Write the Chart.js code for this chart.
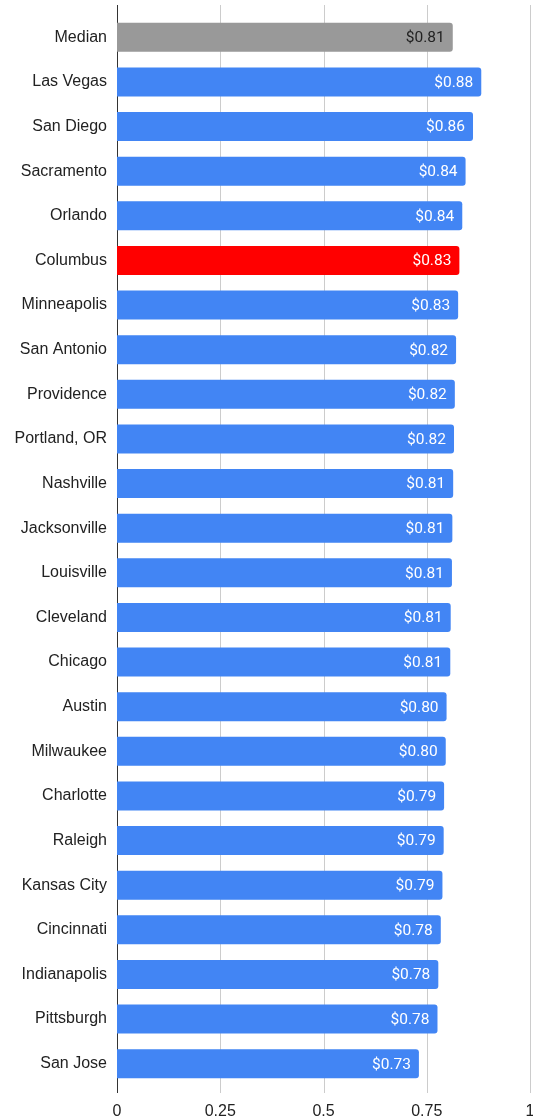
<!DOCTYPE html>
<html>
<head>
<meta charset="utf-8">
<script src="https://cdn.jsdelivr.net/npm/chart.js@4"></script>
<style>
  html, body { margin: 0; padding: 0; background: #fff; }
  #wrap { width: 533px; height: 1120px; }
</style>
</head>
<body>
<div id="wrap"><canvas id="barChart"></canvas></div>
<script>
var cities = [
  "Median", "Las Vegas", "San Diego", "Sacramento", "Orlando", "Columbus",
  "Minneapolis", "San Antonio", "Providence", "Portland, OR", "Nashville",
  "Jacksonville", "Louisville", "Cleveland", "Chicago", "Austin", "Milwaukee",
  "Charlotte", "Raleigh", "Kansas City", "Cincinnati", "Indianapolis",
  "Pittsburgh", "San Jose"
];
var costs = [
  0.813, 0.882, 0.862, 0.844, 0.836, 0.829,
  0.826, 0.821, 0.818, 0.816, 0.814,
  0.812, 0.811, 0.808, 0.807, 0.798, 0.796,
  0.792, 0.791, 0.788, 0.784, 0.778,
  0.776, 0.731
];
var xTicks = [0, 0.25, 0.5, 0.75, 1];

var BLUE = "#4285F4";
var RED = "#FF0000";
var GREY = "#999999";

var barColors = cities.map(function (c) {
  if (c === "Median") return GREY;
  if (c === "Columbus") return RED;
  return BLUE;
});

// vertical grid lines, running a bit past the plot area like the original
var gridLines = {
  id: "gridLines",
  beforeDatasetsDraw: function (chart) {
    var ctx = chart.ctx, x = chart.scales.x, area = chart.chartArea;
    ctx.save();
    ctx.lineWidth = 1;
    xTicks.forEach(function (v) {
      var px = Math.round(x.getPixelForValue(v)) + 0.5;
      ctx.strokeStyle = v === 0 ? "#333333" : "#cccccc";
      ctx.beginPath();
      ctx.moveTo(px, area.top - 10);
      ctx.lineTo(px, area.bottom + 7);
      ctx.stroke();
    });
    ctx.restore();
  }
};

// value labels inside the bar ends
var valueLabels = {
  id: "valueLabels",
  afterDatasetsDraw: function (chart) {
    var ctx = chart.ctx;
    var meta = chart.getDatasetMeta(0);
    ctx.save();
    ctx.font = "15.5px Roboto";
    ctx.textAlign = "right";
    ctx.textBaseline = "middle";
    meta.data.forEach(function (bar, i) {
      ctx.fillStyle = cities[i] === "Median" ? "#222222" : "#ffffff";
      ctx.fillText("$" + (Math.round(costs[i] * 100) / 100).toFixed(2), bar.x - 8, bar.y + 1);
    });
    ctx.restore();
  }
};

var myBarChart = new Chart(document.getElementById("barChart"), {
  type: "bar",
  data: {
    labels: cities,
    datasets: [{
      data: costs,
      backgroundColor: barColors,
      borderRadius: { topLeft: 0, bottomLeft: 0, topRight: 3, bottomRight: 3 },
      borderSkipped: false,
      categoryPercentage: 0.65,
      barPercentage: 1
    }]
  },
  options: {
    indexAxis: "y",
    responsive: true,
    maintainAspectRatio: false,
    animation: false,
    layout: { padding: { top: 15, right: 3, bottom: 0, left: 0 } },
    plugins: {
      legend: { display: false },
      tooltip: { enabled: false }
    },
    scales: {
      x: {
        min: 0,
        max: 1,
        afterBuildTicks: function (scale) {
          scale.ticks = xTicks.map(function (v) { return { value: v }; });
        },
        afterFit: function (scale) {
          scale.height = 34;
          scale.paddingLeft = 0;
          scale.paddingRight = 0;
        },
        grid: { display: false, drawTicks: false },
        border: { display: false },
        ticks: {
          padding: 16,
          color: "#222222",
          font: { family: "'Liberation Sans', Arial, sans-serif", size: 16 },
          callback: function (value) { return String(value); }
        }
      },
      y: {
        afterFit: function (scale) {
          scale.width = 117;
          scale.paddingTop = 0;
          scale.paddingBottom = 0;
        },
        grid: { display: false, drawTicks: false },
        border: { display: false },
        ticks: {
          padding: 10,
          color: "#222222",
          font: { family: "'Liberation Sans', Arial, sans-serif", size: 16 }
        }
      }
    }
  },
  plugins: [gridLines, valueLabels]
});
</script>
</body>
</html>
